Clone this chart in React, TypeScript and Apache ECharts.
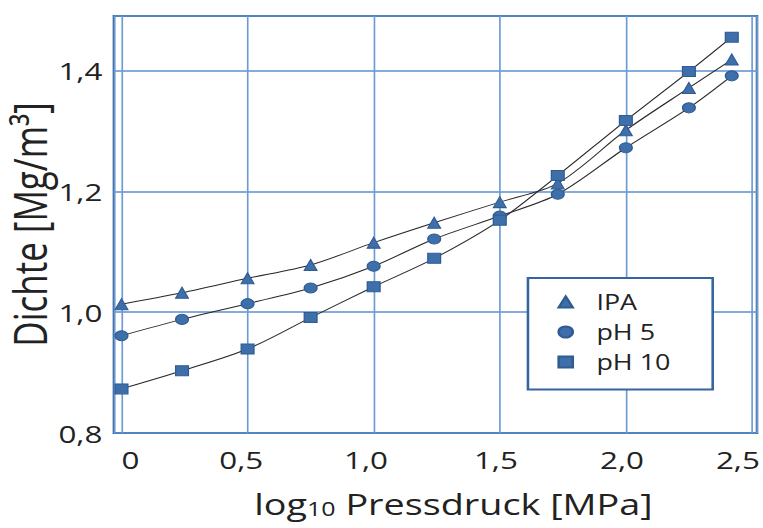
import React, { useEffect, useRef } from "react";
import * as echarts from "echarts";

const xValues = [0, 0.24, 0.5, 0.75, 1.0, 1.24, 1.5, 1.73, 2.0, 2.25, 2.42];
const ipaValues = [1.013, 1.032, 1.056, 1.078, 1.115, 1.148, 1.182, 1.213, 1.301, 1.371, 1.418];
const ph5Values = [0.961, 0.988, 1.014, 1.04, 1.076, 1.121, 1.159, 1.195, 1.272, 1.338, 1.391];
const ph10Values = [0.873, 0.903, 0.939, 0.991, 1.042, 1.089, 1.152, 1.226, 1.317, 1.398, 1.455];
const seriesNames = ["IPA", "pH 5", "pH 10"];
const seriesSymbols = ["triangle", "circle", "rect"];
const xTickLabels: Record<string, string> = { "0": "0", "0.5": "0,5", "1": "1,0", "1.5": "1,5", "2": "2,0", "2.5": "2,5" };
const yTickLabels: Record<string, string> = { "0.8": "0,8", "1": "1,0", "1.2": "1,2", "1.4": "1,4" };

const FONT = "'Open Sans', 'Noto Sans', sans-serif";
const MARKER = "#3f6fab";
const FRAME = "#36649e";
// the reference picture is horizontally stretched; the chart is drawn narrower and stretched the same way
const CHART_W = 596;
const STRETCH = 763 / CHART_W;

// small horizontal nudges of the x tick labels, as in the reference
const xLabelStyle: Record<string, string> = { "0": "p0", "0.5": "m5", "1": "m6", "1.5": "m3", "2": "m3", "2.5": "m11" };

export default function App() {
  const ref = useRef<HTMLDivElement>(null);
  useEffect(() => {
    if (!ref.current) return;
    const chart = echarts.init(ref.current, null, { renderer: "svg" });
    const allValues = [ipaValues, ph5Values, ph10Values];
    const series = seriesNames.map((name, i) => ({
      name,
      type: "line",
      smooth: 0.3,
      symbol: seriesSymbols[i],
      symbolSize: i === 0 ? [10, 11] : 10,
      data: xValues.map((x, j) => [x, allValues[i][j]]),
      lineStyle: { color: "#2a2a2a", width: 1 },
      itemStyle: { color: MARKER, borderColor: "#2f5c92", borderWidth: 1 },
      z: 3,
    }));
    const tickText = { fontSize: 24.5, fontFamily: FONT, color: "#222" };
    chart.setOption({
      animation: false,
      backgroundColor: "#ffffff",
      grid: {
        left: 89,
        right: 4.7,
        top: 16,
        bottom: 95,
        containLabel: false,
        outerBoundsMode: "none",
        show: true,
        borderColor: FRAME,
        borderWidth: 2,
        backgroundColor: "transparent",
      },
      xAxis: {
        type: "value",
        min: -0.03,
        max: 2.52,
        splitNumber: 5,
        axisLine: { show: false },
        axisTick: { show: false },
        splitLine: { show: true, lineStyle: { color: "#6c9bd3", width: 1.3 } },
        axisLabel: {
          margin: 14,
          ...tickText,
          showMinLabel: false,
          showMaxLabel: false,
          formatter: (v: number) => {
            const key = String(Math.round(v * 100) / 100);
            const t = xTickLabels[key];
            return t ? `{${xLabelStyle[key]}|${t}}` : "";
          },
          rich: {
            p0: { ...tickText, padding: [0, 0, 0, 14] },
            m3: { ...tickText, padding: [0, 6, 0, 0] },
            m5: { ...tickText, padding: [0, 10, 0, 0] },
            m6: { ...tickText, padding: [0, 12, 0, 0] },
            m11: { ...tickText, padding: [0, 22, 0, 0] },
          },
        },
        name: "{a|log}{s|10}{a| Pressdruck [MPa]}",
        nameLocation: "middle",
        nameGap: 55,
        nameMoveOverlap: false,
        nameTextStyle: {
          padding: [0, 0, 0, 28],
          rich: {
            a: { fontSize: 29.5, fontFamily: FONT, color: "#222" },
            s: { fontSize: 19.5, fontFamily: FONT, color: "#222", padding: [11, 0, 0, 0] },
          },
        },
      },
      yAxis: {
        type: "value",
        min: 0.8,
        max: 1.49,
        interval: 0.2,
        axisLine: { show: false },
        axisTick: { show: false },
        splitLine: { show: true, lineStyle: { color: "#5b8fd0", width: 1.5 } },
        axisLabel: {
          margin: 9,
          ...tickText,
          showMaxLabel: false,
          formatter: (v: number) => yTickLabels[String(Math.round(v * 100) / 100)] ?? "",
        },
        name: "Dichte [Mg/m³]",
        nameLocation: "middle",
        nameRotate: 90,
        nameGap: 48,
        nameMoveOverlap: false,
        nameTextStyle: { fontSize: 35, fontFamily: FONT, color: "#222" },
      },
      legend: {
        orient: "vertical",
        left: 412.4,
        top: 278,
        padding: [13.5, 33, 17, 23],
        itemGap: 9,
        itemWidth: 11,
        itemHeight: 11,
        backgroundColor: "#ffffff",
        borderColor: FRAME,
        borderWidth: 2,
        borderRadius: 0,
        textStyle: { fontSize: 21, fontFamily: FONT, color: "#222", padding: [0, 0, 0, 13.5] },
        data: seriesNames.map((n, i) => ({ name: n, icon: seriesSymbols[i] })),
      },
      series,
    });
    return () => chart.dispose();
  }, []);
  return (
    <div
      ref={ref}
      style={{
        position: "fixed",
        left: 0,
        top: 0,
        width: CHART_W,
        height: 528,
        transform: `scaleX(${STRETCH})`,
        transformOrigin: "0 0",
      }}
    />
  );
}
